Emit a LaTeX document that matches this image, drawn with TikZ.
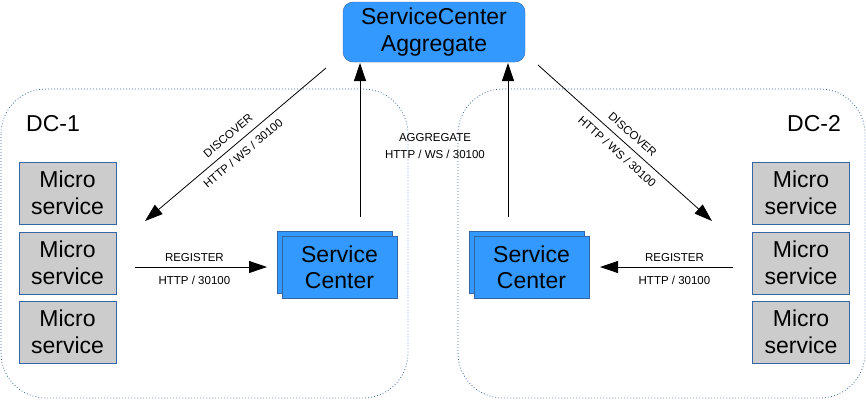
\documentclass[tikz,border=0pt]{standalone}
\usepackage{fontspec}
\setmainfont{Liberation Sans}
\usetikzlibrary{arrows.meta}
\usetikzlibrary{positioning}
\definecolor{scblue}{HTML}{3399FF}
\definecolor{scedge}{HTML}{3465A4}
\definecolor{msgray}{HTML}{CCCCCC}
\tikzset{arrowto/.style = {line width=.8pt, -{Triangle[length=18pt,width=12pt]}}}
\tikzset{arrowfrom/.style = {line width=.8pt, {Triangle[length=18pt,width=12pt]}-}}
\tikzset{
big/.style = {font=\fontsize{23}{26.5}\selectfont, align=center},
small/.style = {font=\fontsize{11.5}{17}\selectfont, inner sep=2pt, align=center},
micro/.style = {big, draw=scedge, fill=msgray, minimum width=97pt, minimum height=62pt, inner sep=0pt},
center box/.style = {big, draw=scedge, fill=scblue, minimum width=115pt, minimum height=62pt, inner sep=0pt},
region/.style = {draw=scedge, line width=.8pt, dash pattern=on .8pt off 2.2pt, rounded corners=45pt},
}

\begin{document}
\begin{tikzpicture}[x=1pt, y=-1pt]
			\useasboundingbox (0,0) rectangle (866,400);
			% data centres
			\draw [region] (1,89) rectangle (408,398);
			\draw [region] (458,89) rectangle (865,398);
			\node [big] (dc1) at (53,124) {DC-1};
			\node [big] (dc2) at (814,124) {DC-2};
			% aggregate
			\node [center box, minimum width=182pt, minimum height=60pt, rounded corners=10pt] (agg) at (434,32) {ServiceCenter\\Aggregate};
			\node [small] (aggtext) at (435,146) {AGGREGATE\\HTTP / WS / 30100};
			% micro services
			\foreach \y [count=\i] in {193, 263, 332} {
				\node [micro] (l\i) at (67.5,\y) {Micro\\service};
				\node [micro] (r\i) at (801,\y) {Micro\\service};
			}
			% service centers
			\node [center box] (sc1b) at (334.5,262.5) {};
			\node [center box] (sc1) at (339.5,267.5) {Service\\Center};
			\node [center box] (sc2b) at (526.5,262.5) {};
			\node [center box] (sc2) at (531.5,267.5) {Service\\Center};
			% arrow ends
			\coordinate (1) at (145,221);
			\coordinate (2) at (326,68);
			\coordinate (3) at (538,65);
			\coordinate (4) at (712,221);
			\coordinate (5) at (360,217);
			\coordinate (6) at (360,63);
			\coordinate (7) at (508,217);
			\coordinate (8) at (508,63);
			\coordinate (9) at (135,267);
			\coordinate (10) at (267,267);
			\coordinate (11) at (733,267);
			\coordinate (12) at (600,267);
			\draw [arrowfrom] (1) to node [small, sloped, above=5pt] {DISCOVER} node [small, sloped, below=5pt] {HTTP / WS / 30100} (2);
			\draw [arrowto] (3) to node [small, sloped, above=5pt] {DISCOVER} node [small, sloped, below=5pt] {HTTP / WS / 30100} (4);
			\draw [arrowto] (5) to (6);
			\draw [arrowto] (7) to (8);
			\draw [arrowto] (9) to node [small, pos=.45, above=3pt] {REGISTER} node [small, pos=.45, below=7pt] {HTTP / 30100} (10);
			\draw [arrowto] (11) to node [small, pos=.44, above=3pt] {REGISTER} node [small, pos=.44, below=7pt] {HTTP / 30100} (12);
		\end{tikzpicture}
\end{document}
